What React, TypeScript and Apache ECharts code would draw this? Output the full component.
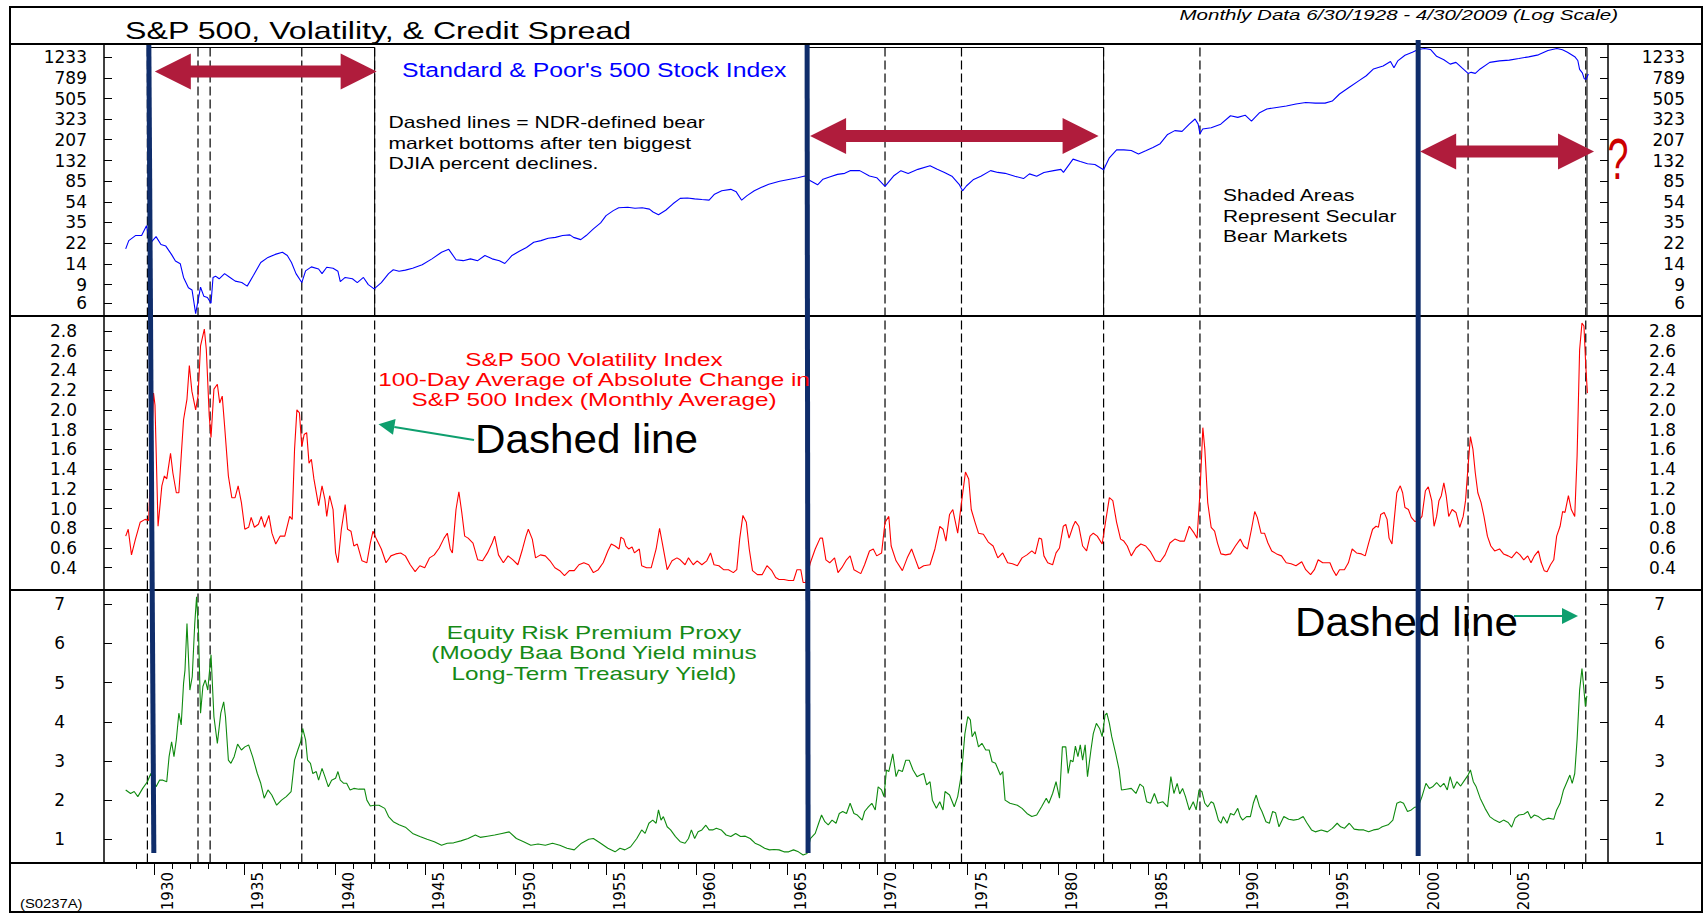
import React, { useEffect, useRef } from "react";
import * as echarts from "echarts";

// ---------- axes ----------
const X_MIN = 1927.23;
const X_MAX = 2010.42;
const MAJOR_YEARS = [1930, 1935, 1940, 1945, 1950, 1955, 1960, 1965, 1970, 1975, 1980, 1985, 1990, 1995, 2000, 2005];
const MINOR_YEARS: number[] = [];
for (let y = 1929; y <= 2009; y++) MINOR_YEARS.push(y);

const SPX_TICKS = [6, 9, 14, 22, 35, 54, 85, 132, 207, 323, 505, 789, 1233];
const VOL_TICKS = [0.4, 0.6, 0.8, 1.0, 1.2, 1.4, 1.6, 1.8, 2.0, 2.2, 2.4, 2.6, 2.8];
const ERP_TICKS = [1, 2, 3, 4, 5, 6, 7];
const SPX_RANGE = [4.558, 1644];
const VOL_RANGE = [0.174, 2.952];
const ERP_RANGE = [0.395, 7.365];

// ---------- events ----------
const BEAR_BOTTOMS = [1929.63, 1932.43, 1933.1, 1938.17, 1942.2, 1970.43, 1974.66, 1982.52, 1987.85, 2002.68, 2009.19];
const SECULAR_BEARS: [number, number][] = [[1929.71, 1942.2], [1966.12, 1982.52], [1999.92, 2009.26]];

// ---------- series ----------
const SPX: [number, number][] = [
  [1928.43, 19.5], [1928.6, 23.3], [1928.97, 26], [1929.31, 26], [1929.58, 32.2], [1929.77, 21.8], [1930.11, 25.4], [1930.38, 21.4], [1930.65, 20.7], [1930.97, 17.2],
  [1931.18, 15.0], [1931.45, 14.1], [1931.63, 10.5], [1931.9, 8.4], [1932.1, 8.0], [1932.3, 4.8], [1932.57, 8.5], [1932.75, 7.0], [1932.95, 6.8], [1933.15, 6.0],
  [1933.26, 10.5], [1933.4, 10.8], [1933.6, 10.2], [1933.9, 11.4], [1934.2, 10.5], [1934.49, 9.7], [1934.85, 9.4], [1935.15, 8.7], [1935.5, 11.0], [1935.9, 14.5],
  [1936.3, 16.2], [1936.7, 17.3], [1937.1, 18.1], [1937.37, 16.9], [1937.6, 14.5], [1937.85, 11.4], [1938.17, 9.4], [1938.38, 12.1], [1938.7, 13.2], [1939.1, 12.6],
  [1939.29, 11.4], [1939.55, 13.1], [1939.9, 12.8], [1940.17, 12.0], [1940.3, 9.6], [1940.57, 10.5], [1940.97, 10.2], [1941.24, 9.4], [1941.58, 10.5], [1941.85, 9.0],
  [1942.17, 8.2], [1942.57, 9.4], [1942.97, 11.4], [1943.23, 12.4], [1943.55, 12.0], [1943.9, 12.3], [1944.3, 12.8], [1944.83, 13.8], [1945.37, 15.7], [1945.9, 18.1],
  [1946.3, 19.3], [1946.7, 15.4], [1947.1, 15.1], [1947.5, 15.7], [1947.9, 15.1], [1948.3, 16.9], [1948.7, 15.7], [1949.1, 15.1], [1949.4, 14.2], [1949.8, 16.9],
  [1950.2, 18.5], [1950.6, 20.1], [1951.0, 22.5], [1951.4, 23.3], [1951.8, 24.5], [1952.2, 25.0], [1952.6, 26.0], [1953.0, 26.4], [1953.2, 25.0], [1953.6, 23.8],
  [1953.9, 26.0], [1954.3, 30.0], [1954.7, 34.2], [1955.0, 40.0], [1955.4, 44.6], [1955.7, 47.4], [1956.2, 48.0], [1956.6, 47.0], [1957.0, 47.4], [1957.4, 46.1],
  [1957.6, 43.3], [1957.9, 40.8], [1958.3, 45.0], [1958.7, 51.7], [1959.1, 58.1], [1959.5, 58.6], [1959.9, 57.5], [1960.3, 56.7], [1960.7, 56.0], [1961.0, 63.6],
  [1961.4, 68.5], [1961.9, 70.7], [1962.2, 67.0], [1962.5, 55.9], [1962.8, 61.7], [1963.2, 68.5], [1963.6, 73.9], [1964.0, 78.8], [1964.6, 84.4], [1965.1, 87.6],
  [1965.6, 90.9], [1966.0, 94.3], [1966.3, 85.0], [1966.7, 78.0], [1967.0, 88.0], [1967.4, 93.0], [1967.8, 97.8], [1968.2, 100.0], [1968.5, 106.0], [1969.03, 106],
  [1969.57, 94.3], [1969.97, 90.9], [1970.43, 75.4], [1970.9, 94.3], [1971.31, 106], [1971.71, 99.8], [1972.25, 109], [1972.92, 118], [1973.32, 109], [1973.72, 102],
  [1974.13, 94], [1974.53, 78.8], [1974.72, 68.5], [1974.93, 76], [1975.33, 87.6], [1975.73, 94], [1976.27, 106], [1976.67, 102], [1977.07, 100], [1977.61, 94],
  [1978.09, 89.3], [1978.42, 98.8], [1978.82, 94], [1979.22, 102], [1979.76, 106], [1980.16, 109], [1980.3, 102], [1980.83, 136], [1981.23, 129], [1981.63, 123],
  [1982.04, 121], [1982.52, 108], [1982.84, 140], [1983.24, 166], [1983.64, 166], [1984.05, 164], [1984.45, 152], [1984.85, 163], [1985.25, 175], [1985.65, 190],
  [1986.06, 232], [1986.46, 252], [1986.86, 248], [1987.26, 290], [1987.58, 324], [1987.75, 290], [1987.85, 236], [1988.0, 261], [1988.47, 268], [1989.0, 290],
  [1989.54, 348], [1989.94, 336], [1990.35, 352], [1990.7, 310], [1991.15, 372], [1991.55, 403], [1992.09, 416], [1992.63, 429], [1993.16, 448], [1993.7, 463],
  [1994.23, 457], [1994.77, 457], [1995.17, 478], [1995.57, 557], [1996.11, 644], [1996.65, 744], [1997.05, 827], [1997.45, 958], [1997.98, 1020], [1998.39, 1126],
  [1998.58, 984], [1998.79, 1140], [1999.19, 1287], [1999.6, 1375], [1999.92, 1462], [2000.27, 1490], [2000.6, 1462], [2000.94, 1260], [2001.34, 1170], [2001.69, 1064],
  [2002.01, 1104], [2002.33, 984], [2002.68, 870], [2002.85, 890], [2003.08, 870], [2003.35, 958], [2003.88, 1104], [2004.42, 1140], [2004.96, 1160], [2005.49, 1200],
  [2006.03, 1245], [2006.57, 1300], [2007.1, 1430], [2007.59, 1490], [2007.9, 1450], [2008.18, 1375], [2008.58, 1250], [2008.75, 1150], [2008.85, 950], [2009.0, 880],
  [2009.1, 780], [2009.2, 760], [2009.33, 860],
];

const VOL: [number, number][] = [
  [1928.43, 0.72], [1928.57, 0.79], [1928.75, 0.53], [1928.97, 0.69], [1929.23, 0.86], [1929.5, 0.89], [1929.7, 0.88], [1929.85, 1.6], [1929.97, 2.17], [1930.05, 2.05],
  [1930.22, 0.82], [1930.43, 1.23], [1930.57, 1.33], [1930.7, 1.30], [1930.91, 1.56], [1931.04, 1.36], [1931.23, 1.16], [1931.37, 1.16], [1931.5, 1.53], [1931.63, 1.90],
  [1931.82, 2.11], [1931.95, 2.45], [1932.09, 2.19], [1932.3, 2.0], [1932.43, 2.14], [1932.57, 2.65], [1932.78, 2.82], [1932.89, 2.61], [1933.05, 1.94], [1933.15, 1.72],
  [1933.31, 2.21], [1933.5, 2.26], [1933.63, 2.07], [1933.77, 2.14], [1933.9, 1.84], [1934.11, 1.33], [1934.3, 1.11], [1934.48, 1.11], [1934.65, 1.23], [1934.83, 1.06],
  [1935.02, 0.79], [1935.23, 0.81], [1935.37, 0.91], [1935.55, 0.81], [1935.77, 0.84], [1935.93, 0.92], [1936.11, 0.81], [1936.35, 0.93], [1936.52, 0.75], [1936.73, 0.64],
  [1936.97, 0.72], [1937.23, 0.72], [1937.5, 0.92], [1937.64, 0.89], [1937.77, 1.60], [1937.9, 2.0], [1938.04, 1.97], [1938.17, 1.63], [1938.3, 1.75], [1938.44, 1.77],
  [1938.57, 1.46], [1938.7, 1.50], [1938.84, 1.30], [1939.1, 1.03], [1939.29, 1.23], [1939.45, 1.09], [1939.55, 0.92], [1939.71, 1.13], [1939.9, 0.99], [1940.04, 0.55],
  [1940.17, 0.45], [1940.36, 0.79], [1940.57, 1.04], [1940.7, 0.79], [1940.89, 0.77], [1941.05, 0.62], [1941.24, 0.64], [1941.5, 0.47], [1941.77, 0.45], [1941.96, 0.65],
  [1942.11, 0.77], [1942.3, 0.69], [1942.57, 0.59], [1942.83, 0.45], [1943.1, 0.52], [1943.37, 0.54], [1943.64, 0.55], [1943.9, 0.52], [1944.17, 0.43], [1944.44, 0.36],
  [1944.7, 0.42], [1944.97, 0.40], [1945.24, 0.50], [1945.5, 0.53], [1945.77, 0.60], [1946.04, 0.70], [1946.22, 0.75], [1946.38, 0.59], [1946.5, 0.55], [1946.7, 0.99],
  [1946.86, 1.17], [1947.02, 0.96], [1947.18, 0.72], [1947.37, 0.70], [1947.64, 0.65], [1947.9, 0.48], [1948.17, 0.47], [1948.44, 0.55], [1948.7, 0.65], [1948.84, 0.72],
  [1949.05, 0.53], [1949.32, 0.45], [1949.58, 0.52], [1949.85, 0.48], [1950.12, 0.43], [1950.38, 0.59], [1950.57, 0.72], [1950.7, 0.79], [1950.92, 0.69], [1951.1, 0.50],
  [1951.37, 0.53], [1951.64, 0.52], [1951.9, 0.47], [1952.17, 0.40], [1952.44, 0.37], [1952.7, 0.32], [1952.97, 0.37], [1953.24, 0.37], [1953.5, 0.43], [1953.77, 0.45],
  [1954.04, 0.43], [1954.3, 0.35], [1954.57, 0.38], [1954.84, 0.45], [1955.1, 0.57], [1955.29, 0.64], [1955.5, 0.62], [1955.72, 0.59], [1955.82, 0.71], [1955.98, 0.69],
  [1956.1, 0.62], [1956.25, 0.59], [1956.44, 0.61], [1956.57, 0.55], [1956.84, 0.59], [1956.97, 0.42], [1957.24, 0.40], [1957.5, 0.40], [1957.77, 0.59], [1957.96, 0.80],
  [1958.17, 0.59], [1958.38, 0.38], [1958.65, 0.47], [1958.92, 0.50], [1959.1, 0.48], [1959.37, 0.43], [1959.56, 0.50], [1959.82, 0.43], [1960.04, 0.47], [1960.3, 0.43],
  [1960.57, 0.47], [1960.78, 0.55], [1960.97, 0.43], [1961.24, 0.42], [1961.5, 0.38], [1961.77, 0.38], [1962.04, 0.35], [1962.23, 0.38], [1962.39, 0.69], [1962.57, 0.93],
  [1962.76, 0.86], [1962.92, 0.59], [1963.1, 0.37], [1963.37, 0.33], [1963.64, 0.33], [1963.9, 0.42], [1964.17, 0.37], [1964.38, 0.30], [1964.57, 0.28], [1964.84, 0.28],
  [1965.1, 0.27], [1965.37, 0.27], [1965.56, 0.38], [1965.77, 0.38], [1965.9, 0.25], [1966.04, 0.25], [1966.3, 0.45], [1966.57, 0.59], [1966.84, 0.70], [1966.97, 0.70],
  [1967.16, 0.48], [1967.37, 0.45], [1967.64, 0.50], [1967.83, 0.35], [1968.04, 0.40], [1968.3, 0.48], [1968.5, 0.52], [1968.71, 0.38], [1969.09, 0.34], [1969.3, 0.43],
  [1969.57, 0.57], [1969.78, 0.59], [1969.97, 0.52], [1970.24, 0.55], [1970.43, 0.86], [1970.64, 0.92], [1970.77, 0.62], [1971.04, 0.47], [1971.39, 0.37], [1971.66, 0.50],
  [1971.9, 0.59], [1972.12, 0.48], [1972.3, 0.39], [1972.57, 0.42], [1972.92, 0.43], [1973.19, 0.59], [1973.46, 0.82], [1973.64, 0.79], [1973.8, 0.67], [1974.0, 0.94],
  [1974.18, 0.99], [1974.45, 0.75], [1974.66, 1.06], [1974.88, 1.37], [1975.06, 1.30], [1975.2, 0.99], [1975.41, 0.86], [1975.6, 0.75], [1975.87, 0.74], [1976.14, 0.66],
  [1976.41, 0.62], [1976.67, 0.50], [1976.94, 0.55], [1977.21, 0.45], [1977.48, 0.44], [1977.75, 0.42], [1978.01, 0.50], [1978.28, 0.53], [1978.55, 0.57], [1978.74, 0.54],
  [1978.95, 0.70], [1979.09, 0.69], [1979.22, 0.52], [1979.43, 0.45], [1979.7, 0.43], [1979.89, 0.55], [1980.08, 0.60], [1980.29, 0.82], [1980.43, 0.84], [1980.61, 0.70],
  [1980.83, 0.82], [1980.96, 0.87], [1981.15, 0.82], [1981.36, 0.62], [1981.58, 0.57], [1981.77, 0.72], [1981.95, 0.75], [1982.17, 0.72], [1982.44, 0.64], [1982.65, 0.89],
  [1982.84, 1.11], [1983.03, 1.08], [1983.24, 0.86], [1983.46, 0.69], [1983.64, 0.67], [1983.83, 0.62], [1984.05, 0.52], [1984.31, 0.60], [1984.58, 0.64], [1984.85, 0.62],
  [1985.12, 0.56], [1985.39, 0.47], [1985.65, 0.46], [1985.92, 0.53], [1986.19, 0.65], [1986.46, 0.69], [1986.73, 0.67], [1986.99, 0.67], [1987.26, 0.82], [1987.53, 0.75],
  [1987.69, 0.70], [1987.85, 1.16], [1988.01, 1.82], [1988.12, 1.60], [1988.28, 1.06], [1988.47, 0.81], [1988.66, 0.77], [1988.82, 0.65], [1989.01, 0.54], [1989.27, 0.53],
  [1989.54, 0.54], [1989.81, 0.62], [1990.08, 0.69], [1990.27, 0.62], [1990.48, 0.59], [1990.7, 0.79], [1990.88, 0.97], [1991.02, 0.91], [1991.23, 0.75], [1991.42, 0.75],
  [1991.61, 0.65], [1991.82, 0.57], [1992.09, 0.54], [1992.36, 0.52], [1992.62, 0.45], [1992.89, 0.44], [1993.16, 0.42], [1993.48, 0.46], [1993.7, 0.38], [1993.97, 0.33],
  [1994.18, 0.38], [1994.39, 0.48], [1994.64, 0.45], [1995.04, 0.45], [1995.2, 0.38], [1995.39, 0.32], [1995.57, 0.38], [1995.84, 0.38], [1996.06, 0.45], [1996.27, 0.59],
  [1996.51, 0.55], [1996.78, 0.54], [1996.99, 0.52], [1997.18, 0.65], [1997.4, 0.79], [1997.59, 0.82], [1997.72, 0.81], [1997.85, 0.94], [1998.04, 0.96], [1998.2, 0.89],
  [1998.31, 0.70], [1998.47, 0.64], [1998.58, 0.86], [1998.74, 1.16], [1998.93, 1.23], [1999.06, 1.16], [1999.19, 1.01], [1999.38, 0.99], [1999.54, 0.91], [1999.73, 0.87],
  [1999.92, 0.87], [2000.13, 0.92], [2000.32, 1.18], [2000.48, 1.22], [2000.67, 1.08], [2000.8, 0.82], [2000.94, 0.92], [2001.07, 1.08], [2001.2, 1.13], [2001.34, 1.26],
  [2001.47, 1.13], [2001.61, 0.92], [2001.8, 0.99], [2002.01, 0.96], [2002.22, 0.81], [2002.41, 0.92], [2002.54, 1.08], [2002.68, 1.43], [2002.81, 1.73], [2002.95, 1.60],
  [2003.08, 1.36], [2003.22, 1.16], [2003.4, 1.06], [2003.56, 0.92], [2003.75, 0.72], [2003.94, 0.62], [2004.15, 0.57], [2004.42, 0.59], [2004.64, 0.54], [2004.9, 0.52],
  [2005.09, 0.50], [2005.36, 0.56], [2005.55, 0.53], [2005.76, 0.48], [2005.98, 0.52], [2006.16, 0.45], [2006.35, 0.52], [2006.57, 0.57], [2006.73, 0.45], [2006.89, 0.37],
  [2007.05, 0.36], [2007.24, 0.43], [2007.42, 0.48], [2007.58, 0.72], [2007.77, 0.82], [2007.91, 0.97], [2008.04, 0.96], [2008.23, 1.13], [2008.39, 0.99], [2008.58, 0.92],
  [2008.71, 1.53], [2008.85, 2.61], [2008.98, 2.88], [2009.09, 2.85], [2009.19, 2.45], [2009.28, 2.17],
];

const ERP: [number, number][] = [
  [1928.43, 2.26], [1928.7, 2.17], [1928.9, 2.22], [1929.1, 2.09], [1929.37, 2.30], [1929.63, 2.47], [1929.82, 2.68], [1930.11, 2.34], [1930.3, 2.51], [1930.49, 2.51],
  [1930.7, 2.47], [1930.83, 3.11], [1930.97, 3.49], [1931.1, 3.11], [1931.23, 3.54], [1931.37, 4.22], [1931.5, 3.92], [1931.63, 4.98], [1931.71, 5.32], [1931.82, 6.51],
  [1931.98, 4.81], [1932.11, 5.15], [1932.25, 6.51], [1932.35, 7.19], [1932.46, 6.26], [1932.57, 4.22], [1932.7, 4.90], [1932.83, 5.07], [1932.97, 4.81], [1933.15, 5.71],
  [1933.31, 4.13], [1933.5, 3.45], [1933.69, 4.22], [1933.85, 4.51], [1933.95, 4.13], [1934.11, 3.02], [1934.25, 2.94], [1934.43, 3.11], [1934.62, 3.43], [1934.83, 3.28],
  [1935.02, 3.36], [1935.23, 3.41], [1935.45, 3.11], [1935.71, 2.68], [1935.9, 2.43], [1936.09, 2.05], [1936.3, 2.26], [1936.51, 2.13], [1936.78, 1.87], [1937.05, 2.00],
  [1937.31, 2.09], [1937.58, 2.22], [1937.77, 3.02], [1937.95, 3.28], [1938.11, 3.49], [1938.22, 3.83], [1938.38, 3.54], [1938.49, 3.02], [1938.65, 2.94], [1938.78, 2.68],
  [1938.97, 2.73], [1939.1, 2.51], [1939.29, 2.81], [1939.45, 2.60], [1939.64, 2.34], [1939.82, 2.51], [1940.04, 2.56], [1940.17, 2.73], [1940.3, 2.51], [1940.49, 2.43],
  [1940.65, 2.43], [1940.84, 2.26], [1941.05, 2.30], [1941.32, 2.28], [1941.64, 2.28], [1941.77, 2.00], [1941.96, 1.85], [1942.17, 1.87], [1942.44, 1.87], [1942.76, 1.79],
  [1942.97, 1.58], [1943.23, 1.45], [1943.55, 1.37], [1943.9, 1.31], [1944.3, 1.15], [1944.7, 1.07], [1945.1, 1.00], [1945.5, 0.94], [1945.9, 0.85], [1946.22, 0.90],
  [1946.57, 0.91], [1946.97, 0.96], [1947.37, 1.02], [1947.77, 1.11], [1948.04, 1.05], [1948.44, 1.08], [1948.84, 1.11], [1949.24, 1.15], [1949.64, 1.19], [1950.04, 1.02],
  [1950.44, 0.94], [1950.84, 0.85], [1951.24, 0.88], [1951.64, 0.85], [1952.04, 0.90], [1952.44, 0.85], [1952.84, 0.77], [1953.24, 0.73], [1953.64, 0.90], [1954.04, 1.00],
  [1954.3, 1.02], [1954.7, 0.90], [1955.1, 0.77], [1955.5, 0.68], [1955.77, 0.77], [1956.04, 0.73], [1956.36, 0.81], [1956.7, 1.02], [1956.97, 1.24], [1957.16, 1.15],
  [1957.37, 1.41], [1957.58, 1.49], [1957.77, 1.41], [1957.9, 1.75], [1958.04, 1.49], [1958.17, 1.58], [1958.38, 1.32], [1958.57, 1.24], [1958.84, 1.07], [1959.1, 0.94],
  [1959.37, 0.90], [1959.56, 1.02], [1959.72, 1.24], [1959.9, 1.02], [1960.09, 1.19], [1960.3, 1.24], [1960.52, 1.36], [1960.7, 1.24], [1960.9, 1.24], [1961.1, 1.28],
  [1961.37, 1.24], [1961.64, 1.11], [1961.9, 1.07], [1962.17, 1.15], [1962.44, 1.07], [1962.7, 1.08], [1962.97, 1.02], [1963.24, 0.90], [1963.5, 0.85], [1963.77, 0.77],
  [1964.04, 0.73], [1964.3, 0.74], [1964.57, 0.73], [1964.84, 0.68], [1965.1, 0.68], [1965.37, 0.73], [1965.64, 0.68], [1965.9, 0.60], [1966.12, 0.64], [1966.3, 1.02],
  [1966.57, 1.15], [1966.76, 1.41], [1966.92, 1.62], [1967.1, 1.45], [1967.29, 1.37], [1967.5, 1.49], [1967.72, 1.41], [1967.9, 1.66], [1968.09, 1.71], [1968.3, 1.66],
  [1968.5, 1.92], [1968.71, 1.66], [1968.9, 1.62], [1969.17, 1.49], [1969.3, 1.71], [1969.51, 1.83], [1969.7, 1.92], [1969.89, 1.75], [1970.05, 2.34], [1970.24, 2.26],
  [1970.37, 2.09], [1970.51, 2.77], [1970.64, 2.73], [1970.86, 3.18], [1971.04, 2.60], [1971.18, 2.77], [1971.39, 2.73], [1971.58, 3.02], [1971.77, 3.02], [1971.98, 2.77],
  [1972.2, 2.60], [1972.38, 2.64], [1972.57, 2.68], [1972.73, 2.39], [1972.92, 2.47], [1973.05, 2.00], [1973.27, 1.79], [1973.46, 1.96], [1973.64, 1.75], [1973.75, 2.22],
  [1974.0, 2.13], [1974.26, 1.83], [1974.45, 2.09], [1974.66, 2.68], [1974.85, 3.70], [1975.01, 4.13], [1975.15, 4.05], [1975.25, 3.62], [1975.41, 3.75], [1975.6, 3.36],
  [1975.79, 3.45], [1976.0, 3.28], [1976.19, 3.28], [1976.35, 2.98], [1976.54, 2.94], [1976.81, 2.64], [1976.94, 2.73], [1977.07, 2.00], [1977.34, 1.92], [1977.75, 1.87],
  [1978.01, 1.79], [1978.28, 1.66], [1978.55, 1.58], [1978.82, 1.62], [1979.09, 1.83], [1979.35, 2.05], [1979.49, 1.92], [1979.7, 2.17], [1979.89, 2.47], [1980.08, 2.05],
  [1980.24, 3.36], [1980.43, 3.36], [1980.56, 2.68], [1980.69, 3.02], [1980.83, 2.98], [1980.96, 3.38], [1981.1, 3.11], [1981.23, 3.41], [1981.36, 3.02], [1981.5, 3.41],
  [1981.63, 2.60], [1981.82, 3.28], [1981.95, 3.70], [1982.12, 3.96], [1982.3, 3.83], [1982.44, 3.62], [1982.6, 4.17], [1982.7, 4.22], [1982.84, 3.96], [1982.97, 3.62],
  [1983.19, 3.19], [1983.38, 2.77], [1983.51, 2.26], [1983.78, 2.28], [1984.05, 2.30], [1984.31, 2.17], [1984.53, 2.41], [1984.72, 2.34], [1984.9, 1.96], [1985.12, 1.92],
  [1985.33, 2.17], [1985.52, 1.92], [1985.79, 1.96], [1986.06, 1.83], [1986.24, 2.60], [1986.41, 2.17], [1986.59, 2.43], [1986.73, 2.16], [1986.89, 2.30], [1987.05, 2.09],
  [1987.26, 1.75], [1987.48, 1.96], [1987.64, 1.75], [1987.8, 2.26], [1987.96, 2.22], [1988.12, 1.92], [1988.28, 1.83], [1988.47, 1.96], [1988.6, 1.92], [1988.74, 1.71],
  [1988.87, 1.49], [1989.01, 1.41], [1989.14, 1.58], [1989.35, 1.41], [1989.54, 1.66], [1989.73, 1.62], [1989.94, 1.79], [1990.08, 1.58], [1990.21, 1.49], [1990.43, 1.58],
  [1990.64, 1.58], [1990.8, 1.92], [1990.96, 2.13], [1991.15, 1.83], [1991.28, 1.71], [1991.5, 1.45], [1991.69, 1.41], [1991.87, 1.71], [1992.03, 1.68], [1992.22, 1.32],
  [1992.49, 1.58], [1992.76, 1.51], [1993.03, 1.49], [1993.3, 1.51], [1993.56, 1.58], [1993.75, 1.43], [1994.02, 1.24], [1994.23, 1.19], [1994.56, 1.24], [1994.9, 1.19],
  [1995.17, 1.28], [1995.44, 1.41], [1995.63, 1.32], [1995.84, 1.28], [1996.11, 1.41], [1996.38, 1.26], [1996.65, 1.24], [1996.91, 1.24], [1997.18, 1.19], [1997.45, 1.24],
  [1997.72, 1.26], [1997.93, 1.32], [1998.26, 1.37], [1998.52, 1.49], [1998.74, 1.92], [1998.93, 1.96], [1999.11, 1.92], [1999.33, 1.71], [1999.54, 1.75], [1999.73, 1.82],
  [1999.92, 1.83], [2000.13, 2.09], [2000.35, 2.43], [2000.54, 2.30], [2000.72, 2.34], [2000.94, 2.45], [2001.15, 2.34], [2001.34, 2.43], [2001.53, 2.26], [2001.69, 2.60],
  [2001.88, 2.30], [2002.06, 2.47], [2002.27, 2.36], [2002.49, 2.51], [2002.68, 2.64], [2002.81, 2.77], [2002.97, 2.47], [2003.13, 2.34], [2003.35, 2.05], [2003.62, 1.79],
  [2003.88, 1.58], [2004.15, 1.49], [2004.42, 1.43], [2004.64, 1.49], [2004.9, 1.43], [2005.09, 1.31], [2005.28, 1.54], [2005.49, 1.62], [2005.76, 1.64], [2005.98, 1.71],
  [2006.16, 1.54], [2006.35, 1.62], [2006.57, 1.58], [2006.83, 1.49], [2007.1, 1.54], [2007.42, 1.51], [2007.58, 1.75], [2007.77, 1.92], [2007.96, 2.26], [2008.12, 2.43],
  [2008.31, 2.64], [2008.44, 2.43], [2008.58, 2.68], [2008.71, 3.54], [2008.85, 4.81], [2008.98, 5.36], [2009.09, 4.81], [2009.17, 4.39], [2009.25, 4.66],
];

// ---------- styling ----------
const FONT = "Liberation Sans, Arial, Helvetica, sans-serif";
const AXIS_FONT = "DejaVu Sans, Verdana, sans-serif";

function yAxisDef(gridIndex: number, position: string, range: number[], ticks: number[], fmt: (v: number) => string, margin: number) {
  return {
    type: "value",
    gridIndex,
    position,
    min: range[0],
    max: range[1],
    axisLine: { show: false },
    splitLine: { show: false },
    axisTick: { show: true, inside: true, length: 8, customValues: ticks, lineStyle: { color: "#000", width: 1 } },
    axisLabel: {
      show: true,
      customValues: ticks,
      formatter: fmt,
      margin,
      align: "right",
      color: "#000",
      fontSize: 17,
      fontFamily: AXIS_FONT,
    },
  };
}

function txt(text: string, x: number, y: number, size: number, color: string, o: any = {}) {
  const align = o.align || "left";
  return {
    type: "text",
    x,
    y,
    scaleX: o.sx || 1,
    z: o.z || 12,
    style: {
      text,
      fontSize: size,
      fontFamily: FONT,
      fontStyle: o.italic ? "italic" : "normal",
      fill: color,
      textAlign: align,
      align,
      textVerticalAlign: "middle",
      verticalAlign: "middle",
    },
  };
}

export default function App() {
  const ref = useRef<HTMLDivElement>(null);

  useEffect(() => {
    if (!ref.current) return;
    const chart = echarts.init(ref.current, null, { renderer: "svg" });
    const log = (v: number) => Math.log10(v);

    const option: any = {
      animation: false,
      backgroundColor: "#fff",
      grid: [
        { left: 104, right: 98, top: 44, height: 272, outerBoundsMode: "none", containLabel: false },
        { left: 104, right: 98, top: 316, height: 274, outerBoundsMode: "none", containLabel: false },
        { left: 104, right: 98, top: 590, height: 273, outerBoundsMode: "none", containLabel: false },
      ],
      xAxis: [
        { type: "value", gridIndex: 0, min: X_MIN, max: X_MAX, show: false },
        { type: "value", gridIndex: 1, min: X_MIN, max: X_MAX, show: false },
        {
          type: "value",
          gridIndex: 2,
          position: "bottom",
          min: X_MIN,
          max: X_MAX,
          axisLine: { show: false },
          splitLine: { show: false },
          axisTick: { show: true, customValues: MAJOR_YEARS, length: 12, lineStyle: { color: "#000", width: 1 } },
          axisLabel: {
            show: true,
            customValues: MAJOR_YEARS,
            rotate: 90,
            margin: 9,
            formatter: (v: number) => String(v),
            color: "#000",
            fontSize: 15,
            fontFamily: AXIS_FONT,
            verticalAlign: "top",
            lineHeight: 28,
          },
        },
        {
          type: "value",
          gridIndex: 2,
          position: "bottom",
          min: X_MIN,
          max: X_MAX,
          axisLine: { show: false },
          splitLine: { show: false },
          axisTick: { show: true, customValues: MINOR_YEARS, length: 6, lineStyle: { color: "#000", width: 1 } },
          axisLabel: { show: false },
        },
      ],
      yAxis: [
        yAxisDef(0, "left", SPX_RANGE.map(log), SPX_TICKS.map(log), (v) => String(Math.round(Math.pow(10, v))), 17),
        yAxisDef(0, "right", SPX_RANGE.map(log), SPX_TICKS.map(log), (v) => String(Math.round(Math.pow(10, v))), 77),
        yAxisDef(1, "left", VOL_RANGE, VOL_TICKS, (v) => v.toFixed(1), 27),
        yAxisDef(1, "right", VOL_RANGE, VOL_TICKS, (v) => v.toFixed(1), 68),
        yAxisDef(2, "left", ERP_RANGE, ERP_TICKS, (v) => String(Math.round(v)), 39),
        yAxisDef(2, "right", ERP_RANGE, ERP_TICKS, (v) => String(Math.round(v)), 57),
      ],
      series: [
        {
          name: "S&P 500",
          type: "line",
          xAxisIndex: 0,
          yAxisIndex: 0,
          data: SPX.map(([y, v]) => [y, log(v)]),
          showSymbol: false,
          symbol: "none",
          lineStyle: { color: "#0000FF", width: 1.1 },
          z: 3,
        },
        {
          name: "Volatility",
          type: "line",
          xAxisIndex: 1,
          yAxisIndex: 2,
          data: VOL,
          showSymbol: false,
          symbol: "none",
          lineStyle: { color: "#FF0000", width: 1.1 },
          z: 3,
        },
        {
          name: "Equity Risk Premium",
          type: "line",
          xAxisIndex: 2,
          yAxisIndex: 4,
          data: ERP,
          showSymbol: false,
          symbol: "none",
          lineStyle: { color: "#0F8A0F", width: 1.1 },
          z: 3,
        },
      ],
    };
    chart.setOption(option);

    const px = (yr: number) => chart.convertToPixel({ xAxisIndex: 0 }, yr) as number;
    const G: any[] = [];

    // frame
    G.push({ type: "rect", shape: { x: 10, y: 7, width: 1692, height: 905 }, style: { fill: "none", stroke: "#000", lineWidth: 2 }, z: 8 });
    [44, 316, 590, 863].forEach((y) =>
      G.push({ type: "line", shape: { x1: 10, y1: y, x2: 1702, y2: y }, style: { stroke: "#000", lineWidth: 2 }, z: 8 })
    );
    [104, 1608].forEach((x) =>
      G.push({ type: "line", shape: { x1: x, y1: 44, x2: x, y2: 863 }, style: { stroke: "#000", lineWidth: 1.5 }, z: 8 })
    );

    // dashed bear-market bottoms
    BEAR_BOTTOMS.forEach((d) => {
      const x = px(d);
      G.push({ type: "line", shape: { x1: x, y1: 47.5, x2: x, y2: 863 }, style: { stroke: "#000", lineWidth: 1.2, lineDash: [9, 4] }, z: 1 });
    });

    // secular bear boxes
    SECULAR_BEARS.forEach(([a, b]) => {
      const x1 = px(a);
      const x2 = px(b);
      G.push({ type: "rect", shape: { x: x1, y: 47.5, width: x2 - x1, height: 268.5 }, style: { fill: "none", stroke: "#000", lineWidth: 1 }, z: 1 });
    });

    // navy start lines
    const navySlant = [5, 1, 0];
    const navyY = [[45, 853], [45, 853], [40, 856]];
    SECULAR_BEARS.forEach(([a], i) => {
      const x = px(a);
      G.push({
        type: "line",
        shape: { x1: x, y1: navyY[i][0], x2: x + navySlant[i], y2: navyY[i][1] },
        style: { stroke: "#0F2D6B", lineWidth: 5 },
        z: 10,
      });
    });

    // red double arrows
    const arrowLayout = [
      { y: 71.5, l: 6, r: 2 },
      { y: 136, l: 3, r: -5 },
      { y: 151.5, l: 2, r: 7 },
    ];
    SECULAR_BEARS.forEach(([a, b], i) => {
      const L = px(a) + arrowLayout[i].l;
      const R = px(b) + arrowLayout[i].r;
      const c = arrowLayout[i].y;
      const hl = 36, hh = 18, sh = 6;
      G.push({
        type: "polygon",
        shape: {
          points: [
            [L, c], [L + hl, c - hh], [L + hl, c - sh], [R - hl, c - sh], [R - hl, c - hh],
            [R, c], [R - hl, c + hh], [R - hl, c + sh], [L + hl, c + sh], [L + hl, c + hh],
          ],
        },
        style: { fill: "#B01C3C" },
        z: 11,
      });
    });

    // green pointer arrows
    const greenArrow = (tx: number, ty: number, hx: number, hy: number) => {
      const dx = hx - tx, dy = hy - ty;
      const len = Math.sqrt(dx * dx + dy * dy);
      const ux = dx / len, uy = dy / len;
      const hl = 16, hw = 8;
      const bx = hx - ux * hl, by = hy - uy * hl;
      G.push({ type: "line", shape: { x1: tx, y1: ty, x2: bx, y2: by }, style: { stroke: "#0E9F6E", lineWidth: 2 }, z: 12 });
      G.push({
        type: "polygon",
        shape: { points: [[hx, hy], [bx - uy * hw, by + ux * hw], [bx + uy * hw, by - ux * hw]] },
        style: { fill: "#0E9F6E" },
        z: 12,
      });
    };
    greenArrow(474, 440, 378.5, 424.3);
    greenArrow(1514, 616, 1578, 616);

    // texts
    G.push(txt("S&P 500, Volatility, & Credit Spread", 125, 30.5, 24, "#000", { sx: 1.34 }));
    G.push(txt("Monthly Data 6/30/1928 - 4/30/2009 (Log Scale)", 1618, 15, 15, "#000", { sx: 1.37, italic: true, align: "right" }));
    G.push(txt("Standard & Poor's 500 Stock Index", 402, 70.3, 19.5, "#0000FF", { sx: 1.27 }));
    G.push(txt("Dashed lines = NDR-defined bear", 388.5, 122.8, 16.5, "#000", { sx: 1.28 }));
    G.push(txt("market bottoms after ten biggest", 388.5, 143.1, 16.5, "#000", { sx: 1.28 }));
    G.push(txt("DJIA percent declines.", 388.5, 163.5, 16.5, "#000", { sx: 1.28 }));
    G.push(txt("Shaded Areas", 1223, 195.5, 16.5, "#000", { sx: 1.27 }));
    G.push(txt("Represent Secular", 1223, 216.5, 16.5, "#000", { sx: 1.27 }));
    G.push(txt("Bear Markets", 1223, 236.5, 16.5, "#000", { sx: 1.27 }));
    G.push(txt("S&P 500 Volatility Index", 594, 359.7, 18, "#FF0000", { sx: 1.35, align: "center" }));
    G.push(txt("100-Day Average of Absolute Change in", 594, 379.7, 18, "#FF0000", { sx: 1.35, align: "center" }));
    G.push(txt("S&P 500 Index (Monthly Average)", 594, 400, 18, "#FF0000", { sx: 1.35, align: "center" }));
    G.push(txt("Equity Risk Premium Proxy", 594, 632.7, 18, "#168A16", { sx: 1.35, align: "center" }));
    G.push(txt("(Moody Baa Bond Yield minus", 594, 653.3, 18, "#168A16", { sx: 1.35, align: "center" }));
    G.push(txt("Long-Term Treasury Yield)", 594, 674, 18, "#168A16", { sx: 1.35, align: "center" }));
    G.push(txt("Dashed line", 475, 439, 41, "#000", { sx: 1.03, z: 9 }));
    G.push(txt("Dashed line", 1295, 622, 41, "#000", { sx: 1.03, z: 9 }));
    G.push(txt("?", 1618, 159, 58, "#CC0000", { sx: 0.65, align: "center" }));
    G.push(txt("(S0237A)", 20, 903.5, 13, "#000", { sx: 1.14 }));

    chart.setOption({ graphic: [{ elements: G }] });

    return () => chart.dispose();
  }, []);

  return (
    <div
      ref={ref}
      style={{ position: "fixed", left: 0, top: 0, width: 1706, height: 914, background: "#fff" }}
    />
  );
}
